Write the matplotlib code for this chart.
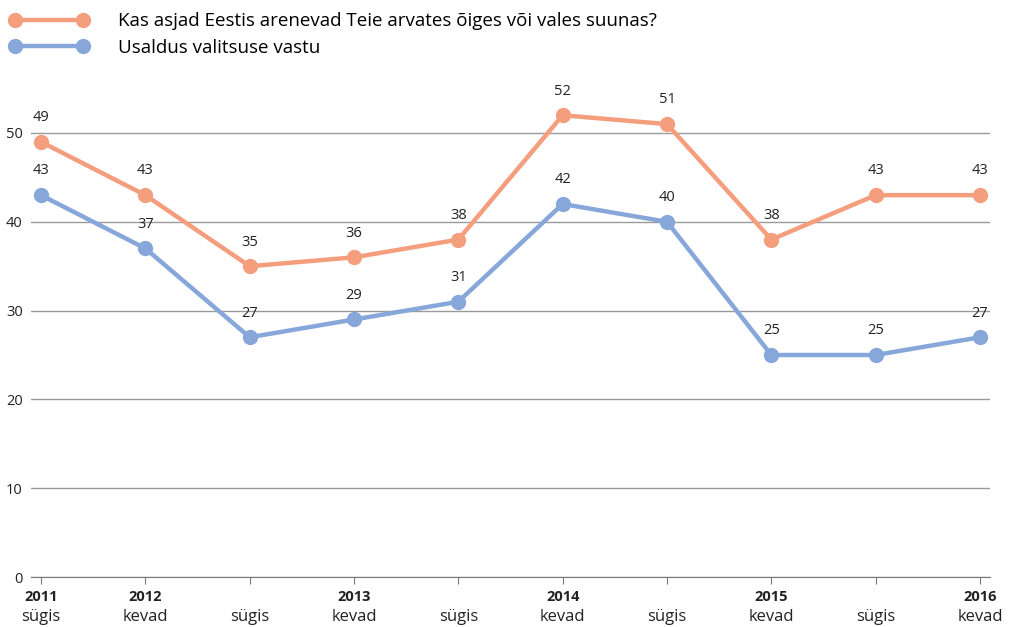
import matplotlib.pyplot as plt
import numpy as np

plt.rcParams['font.family'] = ['Open Sans', 'DejaVu Sans']

years = ['2011', '2012', '', '2013', '', '2014', '', '2015', '', '2016']
seasons = ['sügis', 'kevad', 'sügis', 'kevad', 'sügis', 'kevad', 'sügis', 'kevad', 'sügis', 'kevad']
direction = [49, 43, 35, 36, 38, 52, 51, 38, 43, 43]
trust = [43, 37, 27, 29, 31, 42, 40, 25, 25, 27]

name_dir = 'Kas asjad Eestis arenevad Teie arvates õiges või vales suunas?'
name_trust = 'Usaldus valitsuse vastu'

orange = '#F49E7E'
blue = '#87A7DA'

fig = plt.figure(figsize=(10.09, 6.27), dpi=100)
ax = fig.add_axes([0.0307, 0.0797, 0.9505, 0.779])

x = np.arange(len(seasons))
ax.plot(x, direction, color=orange, lw=3.2, marker='o', ms=10, label=name_dir, zorder=3)
ax.plot(x, trust, color=blue, lw=3.2, marker='o', ms=10, label=name_trust, zorder=3)

for xi, v in zip(x, direction):
    ax.annotate(str(v), (xi, v), xytext=(0, 12), textcoords='offset points',
                ha='center', va='bottom', fontsize=10.5, color='#222222')
for xi, v in zip(x, trust):
    ax.annotate(str(v), (xi, v), xytext=(0, 12), textcoords='offset points',
                ha='center', va='bottom', fontsize=10.5, color='#222222')

ax.set_xlim(-0.096, 9.096)
ax.set_ylim(0, 55)
ax.set_yticks([0, 10, 20, 30, 40, 50])
ax.grid(axis='y', color='#9a9a9a', lw=1)
ax.set_axisbelow(True)
for s in ['top', 'right', 'left']:
    ax.spines[s].set_visible(False)
ax.spines['bottom'].set_color('#777777')
ax.tick_params(axis='y', length=0, pad=6, labelsize=10.5, colors='#222222')
ax.tick_params(axis='x', length=5, color='#777777')
ax.set_xticks(x)
ax.set_xticklabels([])
xt = ax.get_xaxis_transform()
for xi, yr, se in zip(x, years, seasons):
    if yr:
        ax.annotate(yr, (xi, 0), xycoords=xt, xytext=(0, -14.5), textcoords='offset points',
                    ha='center', va='center', fontsize=10.5, fontweight='bold', color='#222222')
    ax.annotate(se, (xi, 0), xycoords=xt, xytext=(0, -28.5), textcoords='offset points',
                ha='center', va='center', fontsize=12, color='#222222')

ax.legend(loc='upper left', bbox_to_anchor=(0.001, 0.994), bbox_transform=fig.transFigure,
          frameon=False, numpoints=2, handlelength=4.2, fontsize=13.5,
          handletextpad=1.6, labelspacing=0.45, borderaxespad=0.1, borderpad=0.35)

fig.savefig('out.png', dpi=100)
